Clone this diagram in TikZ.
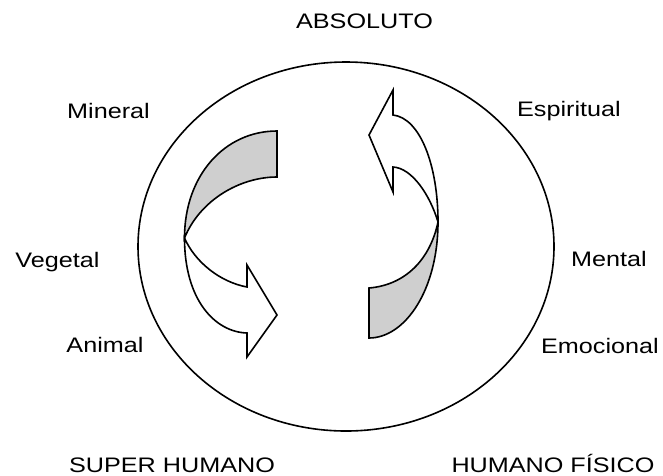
\documentclass[tikz,border=0pt]{standalone}
\usepackage{fontspec}
\setmainfont{Liberation Sans}
\newcommand{\stretchtxt}[1]{\scalebox{1.2}[1]{#1}}
\tikzset{
  lbl/.style={font=\fontsize{21}{25}\selectfont, inner sep=0pt, anchor=base},
  ribbon/.style={draw=black, line width=1.6pt, line join=miter},
  backface/.style={ribbon, fill=black!19},
  frontface/.style={ribbon, fill=white}
}
\begin{document}
\begin{tikzpicture}[x=1pt,y=-1pt]
\useasboundingbox (0,0) rectangle (663,475);
% big ellipse
\draw[line width=1.6pt] (346,246.5) ellipse [x radius=208, y radius=184.5];
% left arrow
\coordinate (C) at (184.5,238);
\path[backface] (277,131) .. controls (225,131) and (184.5,175) .. (C)
   .. controls (200,200) and (240,177) .. (277,177) -- cycle;
\path[frontface] (C) .. controls (184.5,300) and (215,332) .. (247,333)
   -- (247,357) -- (277,315) -- (247,265) -- (247,287)
   .. controls (220,282) and (195,262) .. (C) -- cycle;
% right arrow
\coordinate (D) at (438,222);
\path[backface] (D) .. controls (438,290) and (405,338) .. (369,338)
   -- (369,288) .. controls (405,285) and (430,260) .. (D) -- cycle;
\path[frontface] (393,115) .. controls (420,118) and (438,165) .. (D)
   .. controls (430,195) and (412,168) .. (393,167)
   -- (393,192) -- (369,135) -- (393,90) -- cycle;
% labels
\node[lbl] (absoluto) at (364.5,28) {\stretchtxt{ABSOLUTO}};
\node[lbl] (mineral) at (108.5,118) {\stretchtxt{Mineral}};
\node[lbl] (vegetal) at (57.5,267) {\stretchtxt{Vegetal}};
\node[lbl] (animal) at (105,352) {\stretchtxt{Animal}};
\node[lbl] (espiritual) at (569,116) {\stretchtxt{Espiritual}};
\node[lbl] (mental) at (609,266) {\stretchtxt{Mental}};
\node[lbl] (emocional) at (600,353) {\stretchtxt{Emocional}};
\node[lbl] (super) at (172,472) {\stretchtxt{SUPER HUMANO}};
\node[lbl] (fisico) at (553,472) {\stretchtxt{HUMANO FÍSICO}};
\end{tikzpicture}
\end{document}
